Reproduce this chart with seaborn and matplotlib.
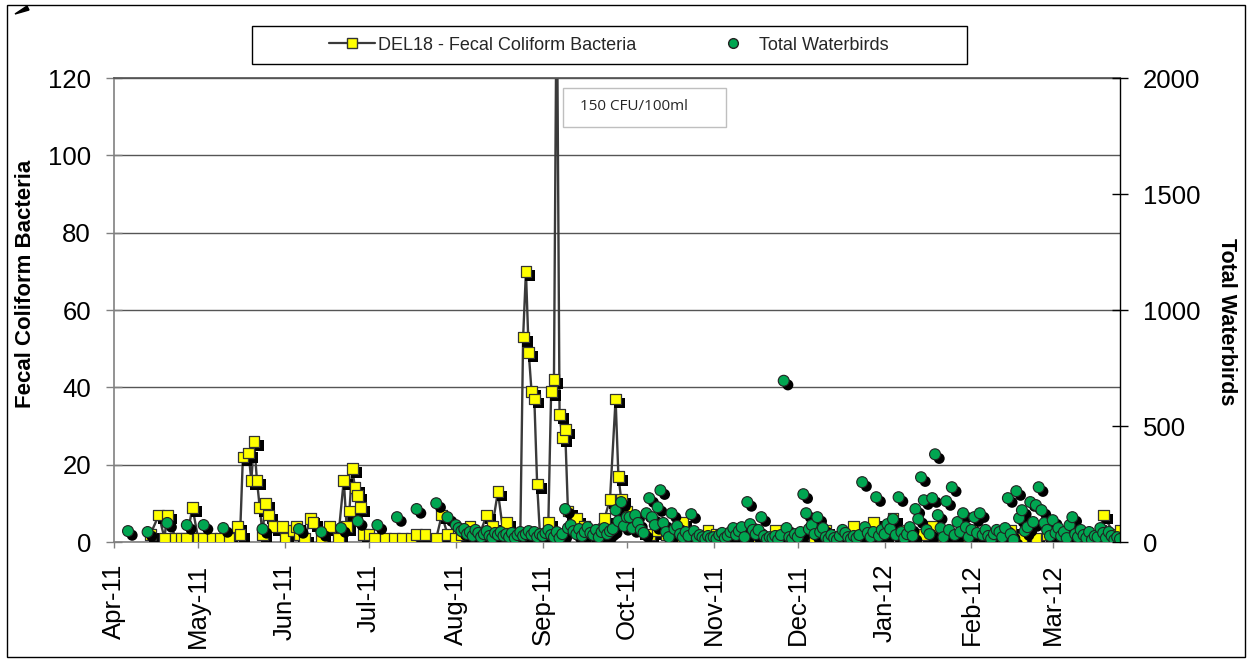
import pandas as pd
import matplotlib
matplotlib.use('Agg')
import matplotlib.pyplot as plt
import matplotlib.dates as mdates
import matplotlib.patheffects as pe
from matplotlib.lines import Line2D
from matplotlib.patches import Rectangle, Polygon
import seaborn as sns

start = pd.Timestamp('2011-04-01')

# DEL18 fecal coliform samples (days after 1 Apr 2011, CFU/100ml)
fc_day = [13, 16, 18, 19, 22, 24, 26, 28, 30, 32,
          35, 38, 41, 44, 45, 46, 48, 49, 50, 51,
          52, 53, 54, 55, 57, 60, 61, 64, 65, 66,
          68, 70, 71, 74, 77, 80, 82, 83, 84, 85,
          86, 87, 88, 89, 91, 93, 97, 100, 103, 106,
          108, 111, 115, 117, 119, 122, 124, 127, 130, 133,
          135, 137, 139, 140, 143, 145, 146, 147, 148, 149,
          150, 151, 152, 155, 156, 157, 158, 159, 160, 161,
          162, 165, 168, 171, 175, 177, 179, 180, 181, 183,
          185, 188, 191, 194, 197, 200, 203, 206, 209, 212,
          215, 218, 221, 224, 227, 230, 233, 236, 240, 243,
          247, 250, 254, 257, 261, 264, 268, 271, 275, 278,
          282, 285, 289, 292, 296, 299, 303, 306, 310, 313,
          317, 320, 324, 329, 333, 337, 341, 345, 349, 352,
          353, 357, 359]
fc_val = [2, 7, 1, 7, 1, 1, 1, 9, 1, 1,
          1, 1, 1, 4, 2, 22, 23, 16, 26, 16,
          9, 2, 10, 7, 4, 4, 1, 3, 4, 2,
          1, 6, 5, 1, 4, 1, 16, 4, 8, 19,
          14, 12, 9, 2, 2, 1, 1, 1, 1, 1,
          2, 2, 1, 7, 2, 1, 2, 4, 1, 7,
          4, 13, 2, 5, 2, 2, 53, 70, 49, 39,
          37, 15, 2, 5, 39, 42, 150, 33, 27, 29,
          8, 6, 4, 3, 6, 11, 37, 17, 11, 8,
          5, 3, 2, 3, 2, 1, 5, 2, 1, 3,
          2, 1, 3, 2, 1, 2, 1, 3, 2, 1,
          2, 1, 3, 1, 2, 4, 2, 5, 2, 6,
          3, 1, 2, 4, 1, 2, 1, 3, 1, 2,
          1, 3, 1, 1, 2, 1, 2, 1, 1, 3,
          7, 2, 3]

# weekly waterbird counts, spring/summer (days after 1 Apr 2011)
bird_day_early = [5, 12, 19, 26, 32, 39, 53, 66, 74, 81, 87, 94, 101, 108, 115, 119]
bird_early = [47, 43, 82, 73, 73, 60, 56, 56, 43, 60, 90, 73, 107, 142, 167, 107]

# daily waterbird counts from August 2011, one list per month
bird_aug = [73, 60, 47, 56, 34, 43, 26, 52, 39, 21, 34, 47, 26, 17, 39, 30,
            43, 26, 34, 21, 39, 17, 30, 43, 26, 34, 47, 30, 43, 21, 34]
bird_sep = [26, 39, 52, 30, 21, 43, 17, 34, 142, 60, 73, 47, 34, 56, 26,
            43, 64, 39, 30, 52, 21, 43, 60, 34, 47, 56, 137, 90, 172, 69]
bird_oct = [107, 107, 60, 116, 82, 52, 39, 124, 189, 107, 73, 150, 223, 82, 43, 21,
            124, 56, 69, 34, 21, 43, 26, 120, 47, 17, 30, 21, 13, 26, 17]
bird_nov = [21, 13, 30, 39, 17, 26, 43, 60, 30, 47, 64, 21, 172, 77, 52,
            34, 52, 107, 26, 13, 21, 17, 26, 9, 30, 695, 60, 21, 13, 34]
bird_dec = [21, 43, 206, 124, 56, 73, 34, 107, 43, 60, 21, 13, 30, 17, 9, 26,
            52, 39, 21, 13, 26, 17, 30, 258, 64, 39, 21, 43, 193, 26, 52]
bird_jan = [34, 77, 56, 99, 30, 193, 43, 17, 34, 64, 26, 142, 99, 279, 180, 52,
            34, 189, 378, 116, 60, 21, 176, 52, 236, 30, 86, 43, 124, 64, 21]
bird_feb = [52, 107, 39, 124, 30, 52, 26, 13, 34, 52, 43, 21, 60, 189, 34,
            9, 219, 103, 137, 47, 64, 172, 86, 159, 236, 137, 82, 52, 26]
bird_mar = [94, 39, 60, 26, 43, 17, 73, 107, 34, 21, 52, 30, 17, 43, 9,
            26, 21, 60, 39, 17, 43, 26, 9, 21, 13]

months = ['2011-08-01', '2011-09-01', '2011-10-01', '2011-11-01',
          '2011-12-01', '2012-01-01', '2012-02-01', '2012-03-01']
monthly = [bird_aug, bird_sep, bird_oct, bird_nov, bird_dec, bird_jan, bird_feb, bird_mar]

fc = pd.DataFrame({'date': start + pd.to_timedelta(fc_day, unit='D'), 'fc': fc_val})

parts = [pd.DataFrame({'date': start + pd.to_timedelta(bird_day_early, unit='D'),
                       'birds': bird_early})]
for m, vals in zip(months, monthly):
    parts.append(pd.DataFrame({'date': pd.date_range(m, periods=len(vals), freq='D'),
                               'birds': vals}))
birds = pd.concat(parts, ignore_index=True)

sns.set_theme(style='white')
plt.rcParams['font.family'] = ['Liberation Sans', 'DejaVu Sans']

W, H = 1252, 663
fig = plt.figure(figsize=(W / 100, H / 100), dpi=100)
ax = fig.add_axes([114 / W, 1 - 542 / H, (1120 - 114) / W, (542 - 78) / H])
ax2 = ax.twinx()

shadow = [pe.SimplePatchShadow(offset=(3, -3), shadow_rgbFace='black', alpha=1.0), pe.Normal()]

sns.lineplot(data=fc, x='date', y='fc', ax=ax, color='#3a3a3a', lw=1.7,
             estimator=None, errorbar=None, legend=False, zorder=2)
sns.scatterplot(data=fc, x='date', y='fc', ax=ax, marker='s', s=60, color='#FFFF00',
                edgecolor='#333333', linewidth=0.9, path_effects=shadow, zorder=3, legend=False)
sns.scatterplot(data=birds, x='date', y='birds', ax=ax2, marker='o', s=62, color='#00A651',
                edgecolor='#222222', linewidth=0.8, path_effects=shadow, legend=False)

ax.set_xlim(pd.Timestamp('2011-04-01'), pd.Timestamp('2012-03-25'))
ax.set_ylim(0, 120)
ax.set_yticks(range(0, 121, 20))
ax2.set_ylim(0, 2000)
ax2.set_yticks(range(0, 2001, 500))
ax.xaxis.set_major_locator(mdates.MonthLocator())
ax.xaxis.set_major_formatter(mdates.DateFormatter('%b-%y'))

ax.grid(axis='y', color='#555555', lw=1.0)
ax.grid(axis='x', visible=False)
ax2.grid(False)
ax.set_axisbelow(True)

for s in ['left', 'bottom']:
    ax.spines[s].set_color('#808080')
    ax.spines[s].set_linewidth(1.2)
ax.spines['top'].set_color('#555555')
ax.spines['right'].set_visible(False)
for s in ['left', 'top', 'bottom']:
    ax2.spines[s].set_visible(False)
ax2.spines['right'].set_color('black')
ax2.spines['right'].set_linewidth(1.0)

ax.tick_params(axis='y', direction='inout', length=11, width=1, color='#808080',
               labelsize=18.5, pad=11, labelcolor='black', left=True)
ax.tick_params(axis='x', direction='out', length=4.5, width=1, color='#808080',
               labelsize=18.5, pad=11, labelrotation=90, labelcolor='black', bottom=True)
ax2.tick_params(axis='y', direction='inout', length=11, width=1, color='black',
                labelsize=18.5, pad=11, labelcolor='black', right=True)

ax.set_xlabel('')
ax.set_ylabel('Fecal Coliform Bacteria', fontsize=16, fontweight='bold', color='black')
ax.yaxis.set_label_coords(-0.0775, 0.556)
ax2.set_ylabel('Total Waterbirds', fontsize=15.5, fontweight='bold', color='black',
               rotation=-90, va='center')
ax2.yaxis.set_label_coords(1.1054, 0.474)

# legend
h1 = Line2D([], [], color='#3a3a3a', lw=1.6, marker='s', markersize=7,
            markerfacecolor='#FFFF00', markeredgecolor='#333333')
h2 = Line2D([], [], ls='none', marker='o', markersize=7,
            markerfacecolor='#00A651', markeredgecolor='#222222')
fig.legend([h1, h2], ['DEL18 - Fecal Coliform Bacteria', 'Total Waterbirds'],
           loc='center', bbox_to_anchor=(609 / W, 1 - 45 / H), ncol=2, frameon=False,
           fontsize=13, handlelength=2.55, handletextpad=0.15, columnspacing=4.1)
fig.patches.append(Rectangle((252 / W, 1 - 64 / H), 715 / W, 38 / H, transform=fig.transFigure,
                             fill=False, ec='black', lw=1.0))

# annotation box for the off-scale sample
fig.patches.append(Rectangle((563 / W, 1 - 127 / H), 163 / W, 39 / H, transform=fig.transFigure,
                             fc='white', ec='#BFBFBF', lw=1.0, zorder=5))
fig.text(580 / W, 1 - 107 / H, '150 CFU/100ml', fontsize=11, family=['Open Sans', 'DejaVu Sans'],
         ha='left', va='center', zorder=6)

# outer chart border and little corner mark
fig.patches.append(Rectangle((7 / W, 1 - 657 / H), 1238 / W, 652 / H, transform=fig.transFigure,
                             fill=False, ec='black', lw=1.0))
fig.patches.append(Polygon([(15 / W, 1 - 14 / H), (27 / W, 1 - 6 / H), (29 / W, 1 - 10 / H)],
                           closed=True, transform=fig.transFigure, fc='black', ec='black'))

fig.savefig('out.png', dpi=100)
